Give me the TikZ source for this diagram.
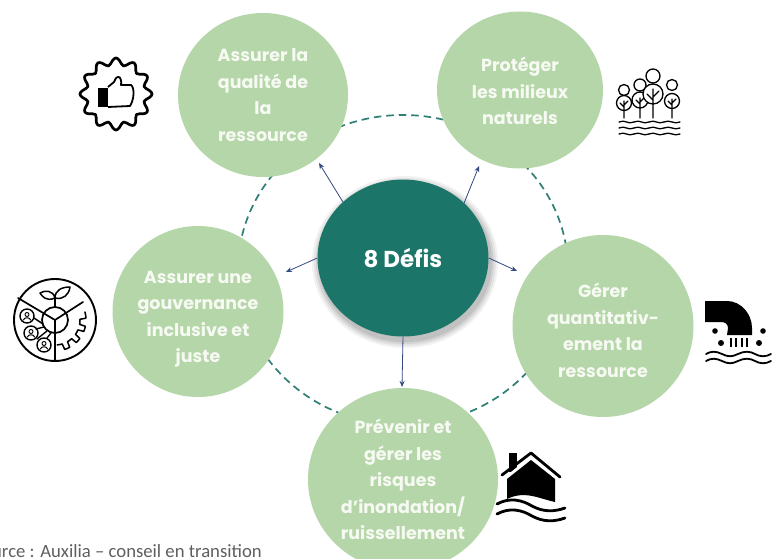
\documentclass[tikz,border=0pt]{standalone}
\usepackage{fontspec}
\setmainfont{Poppins}
\newfontfamily\srcfont{Carlito}
\usetikzlibrary{shapes.geometric,arrows.meta}
\definecolor{leaf}{HTML}{B5D6A8}
\definecolor{teal}{HTML}{1C7569}
\definecolor{ringc}{HTML}{2F7F74}
\definecolor{arrowc}{HTML}{34497F}
\definecolor{srcc}{HTML}{5F5F5F}
\definecolor{soft}{HTML}{F6FAF3}
\tikzset{
  x=1pt,y=-1pt,
  defi/.style={ellipse,fill=leaf,text=soft,inner sep=0pt,align=center,
    font=\fontsize{17.5}{26.5}\selectfont\bfseries},
  ring/.style={draw=ringc,line width=1.7pt,dash pattern=on 7.5pt off 5pt},
  link/.style={draw=arrowc,line width=0.8pt,-{Stealth[length=6pt,width=5pt]}},
  ico/.style={draw=black,line width=1.4pt,line join=round,line cap=round},
}
\begin{document}
\begin{tikzpicture}
\useasboundingbox (0,0) rectangle (772,559);
\clip (0,0) rectangle (772,559);
\fill[white] (0,0) rectangle (772,559);
% dashed ring
\draw[ring] (403,270) ellipse [x radius=165,y radius=155];
% shadow of the centre
\foreach \r/\o in {8/0.05,6/0.06,4/0.07,2/0.08}
  \fill[black,opacity=\o] (405,262) ellipse [x radius={85+\r},y radius={78+\r}];
% circles
\node[defi,minimum width=170pt,minimum height=164pt] (q) at (263,95) {Assurer la\\qualité de\\la\\ressource};
\node[defi,minimum width=166pt,minimum height=157pt] (p) at (520,90) {\rule{0pt}{17pt}Protéger\\les milieux\\naturels};
\node[defi,minimum width=181pt,minimum height=182pt] (g) at (603,326) {\rule{0pt}{23pt}Gérer\\quantitativ-\\ement la\\ressource};
\node[defi,minimum width=190pt,minimum height=183pt] (r) at (403,479.5) {Prévenir et\\gérer les\\risques\\d'inondation/\\ruissellement};
\node[defi,minimum width=171pt,minimum height=171pt] (u) at (198,311.5) {\rule{0pt}{28pt}Assurer une\\gouvernance\\inclusive et\\juste};
\node[ellipse,fill=teal,text=white,minimum width=171pt,minimum height=157pt,inner sep=0pt,
  font=\fontsize{23}{27}\selectfont\bfseries] (c) at (403,258) {8 Défis};
% connectors
\coordinate (eq) at (319,163);
\coordinate (ep) at (479,166);
\coordinate (eu) at (286,272);
\coordinate (eg) at (517,271);
\coordinate (er) at (402,387);
\draw[link] (c.137) -- (eq);
\draw[link] (c.42) -- (ep);
\draw[link] (c.180) -- (eu);
\draw[link] (c.0) -- (eg);
\draw[link] (c.south) -- (er);
% source
\node[anchor=base east,text=srcc,font=\srcfont\fontsize{18.7}{22}\selectfont,inner sep=0pt] (src) at (262,557.5) {Source : Auxilia – conseil en transition};
% badge icon
\draw[draw=black,line width=2.7pt,line join=round] plot[smooth cycle,tension=0.6,samples=72,domain=0:355,variable=\t]
  ({116+(32.5+3.5*cos(12*\t))*cos(\t)},{94+(32.5+3.5*cos(12*\t))*sin(\t)});
\fill[black] (98,88) rectangle (108,107);
\draw[draw=black,line width=1.8pt,line join=round] (108,87) -- (114,82) -- (116,78) .. controls (119,75) and (122,78) .. (121,85) -- (131,85) .. controls (135,88) and (134,100) .. (130,106) -- (108,107);
% trees icon
\foreach \x/\ya/\ra/\yb/\rb in {624/90/5.5/103/7.5, 640/85/6/100/8, 672/85/5.5/101/7.5}{
  \draw[ico,line width=1.3pt,fill=white] (\x,\ya) circle (\ra);
  \draw[ico,line width=1.3pt,fill=white] (\x,\yb) circle (\rb);
  \draw[ico,line width=1.3pt] (\x,{\yb-2}) -- (\x,118) (\x,{\yb+2}) -- ({\x+4},{\yb-2}) (\x,{\yb+4}) -- ({\x-4},{\yb});
}
\draw[ico,line width=1.3pt,fill=white] (653,76) circle (7);
\draw[ico,line width=1.3pt,fill=white] (653,94) circle (10);
\draw[ico,line width=1.3pt] (653,89) -- (653,118) (653,97) -- (659,91) (653,100) -- (647,94);
\foreach \y in {122,128,134}
  \draw[ico,line width=1.3pt] (619,\y) .. controls (625,{\y-3}) and (628,{\y+3}) .. (634,\y) .. controls (640,{\y-3}) and (643,{\y+3}) .. (649,\y) .. controls (655,{\y-3}) and (658,{\y+3}) .. (664,\y) .. controls (670,{\y-3}) and (674,{\y+3}) .. (680,\y);
% pipe icon
\fill[black] (705,301) -- (727,301) .. controls (741,301) and (752,314) .. (752,328) -- (752,335) -- (727,335) -- (728,328) .. controls (728,324) and (725,322) .. (721,322) -- (705,322) -- cycle;
\foreach \x/\y/\s in {715/331/2.8,763/331/2.8,721/343/3,759/343/3}
  \fill[black] (\x,\y) circle (\s);
\foreach \x in {731,736,742,747}
  \draw[black,line width=1.7pt] (\x,338) -- (\x,347);
\foreach \y in {354,361}
  \draw[black,line width=1.8pt,line cap=round] (706,\y) .. controls (711,{\y-3}) and (716,{\y-3}) .. (722,\y) .. controls (728,{\y+3}) and (732,{\y+3}) .. (738,\y) .. controls (744,{\y-3}) and (750,{\y-3}) .. (755,\y) .. controls (760,{\y+3}) and (766,{\y+3}) .. (771,\y);
% governance icon
\draw[ico,line width=1.9pt] (55,320) circle (41);
\draw[ico,line width=1.7pt] (55,320) circle (13);
\draw[ico,line width=1.7pt] (55,320) -- (55,361) (55,320) -- (18,298) (55,320) -- (83,302);
\draw[ico,line width=1.5pt] (55,307) -- (55,298);
\draw[ico,line width=1.5pt] (55,298) .. controls (46,302) and (42,296) .. (40,293) .. controls (45,290) and (53,290) .. (55,298) .. controls (55,290) and (62,287) .. (70,287) .. controls (69,295) and (63,300) .. (55,298);
\foreach \x/\y in {27/316,31/333,44/345}{
  \draw[ico,line width=1.4pt,fill=white] (\x,\y) circle (7);
  \draw[ico,line width=1pt] (\x,{\y-1.5}) circle (2);
  \draw[ico,line width=1pt] ({\x-3.5},{\y+4}) .. controls ({\x-3},{\y+1}) and ({\x+3},{\y+1}) .. ({\x+3.5},{\y+4});
}
\draw[ico,line width=1.4pt] (34,318) -- (43,324) (36,329) -- (44,327) (37,339) -- (47,331) (47,338) -- (51,333);
\draw[ico,line width=1.5pt] plot[samples=61,domain=-15:85,variable=\t]
  ({55+(mod(floor((\t+15)/12.5),2)==0?31:25)*cos(\t)},{320+(mod(floor((\t+15)/12.5),2)==0?31:25)*sin(\t)});
% house icon
\fill[black] (509,453) rectangle (517,472);
\fill[white] (501,480) -- (531,456) -- (561,480) -- (561,483) -- (501,483) -- cycle;
\draw[black,line width=2.8pt,line cap=round,line join=round] (502,475) -- (531,453) -- (560,477);
\fill[black] (507,479) -- (531,460) -- (555,479) -- (555,502) .. controls (540,499) and (525,490) .. (507,499) -- cycle;
\foreach \y in {506,516}
  \draw[black,line width=2.8pt,line cap=round] (497,{\y-2}) .. controls (510,{\y-9}) and (522,{\y-6}) .. (532,{\y}) .. controls (543,{\y+6}) and (554,{\y+6}) .. (565,{\y+2});
\end{tikzpicture}
\end{document}
